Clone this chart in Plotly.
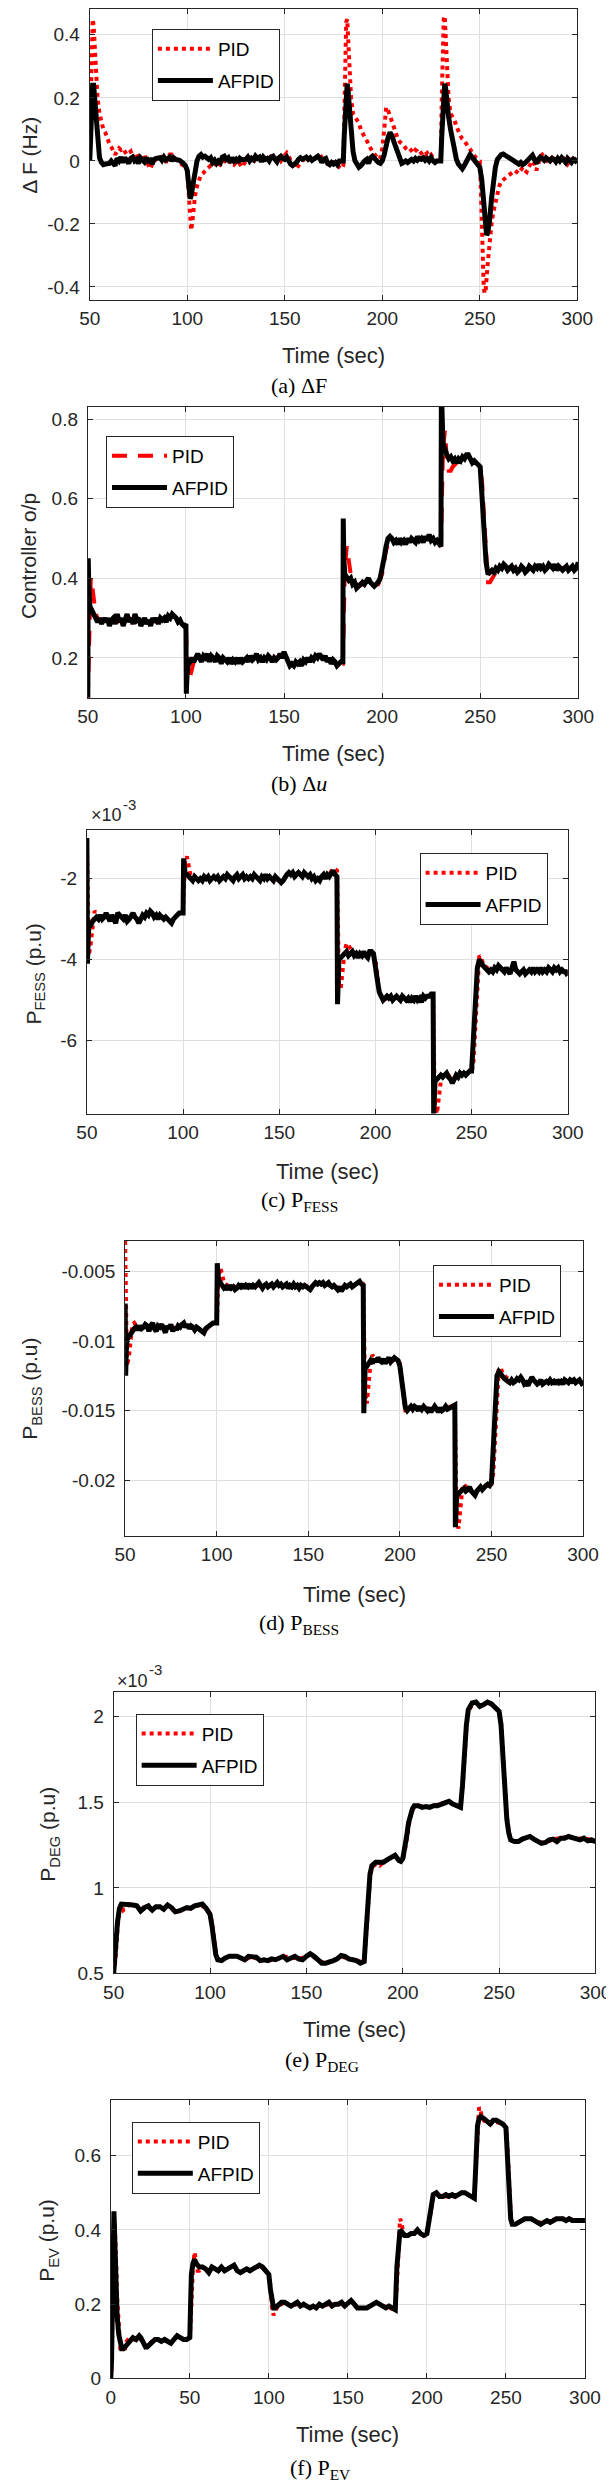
import plotly.graph_objects as go

W, H = 614, 2481

# ---------------- data: (time, value) pairs ----------------
# (a) frequency deviation, Hz
df_pid = [(50, 0.05), (50.5, 0.25), (51, 0.4), (51.5, 0.45), (52, 0.43), (52.5, 0.36), (53, 0.28), (54, 0.2),
          (55, 0.15), (56, 0.12), (57, 0.1), (58, 0.09), (59, 0.07), (60, 0.055), (61, 0.045), (62, 0.03),
          (63, 0.02), (64, 0.03), (65, 0.04), (66, 0.035), (67, 0.04), (68, 0.03), (69, 0.02), (70, 0.025),
          (71, 0.03), (72, 0.01), (73, 0.02), (74, 0.025), (75, 0.01), (76, 0.0), (77, 0.015), (78, 0.02),
          (79, 0.0), (80, -0.015), (81, -0.025), (82, -0.01), (83, 0.0), (84, 0.005), (85, 0.01), (86, 0.005),
          (87, 0.012), (88, 0.008), (89, -0.005), (90, 0.005), (91, 0.02), (92, 0.02), (93, 0.012), (94, 0.005),
          (95, 0.0), (96, -0.005), (97, -0.01), (98, -0.015), (99, -0.02), (100, -0.03), (100.5, -0.08),
          (101, -0.15), (101.5, -0.2), (102, -0.22), (102.5, -0.2), (103, -0.16), (104, -0.11), (105, -0.08),
          (106, -0.06), (107, -0.045), (108, -0.04), (109, -0.03), (110, -0.025), (111, -0.02), (112, -0.015),
          (113, -0.02), (114, -0.01), (115, -0.012), (116, -0.02), (117, -0.01), (118, -0.015), (119, 0.0),
          (120, -0.005), (121, -0.01), (122, 0.0), (123, -0.008), (124, -0.012), (125, -0.005), (126, 0.0),
          (127, -0.01), (128, -0.02), (129, -0.01), (130, 0.0), (131, 0.005), (132, 0.01), (133, 0.0),
          (134, -0.005), (135, 0.01), (136, 0.015), (137, 0.01), (138, 0.005), (139, 0.012), (140, 0.008),
          (141, 0.0), (142, 0.005), (143, 0.015), (144, 0.02), (145, 0.01), (146, 0.005), (147, 0.01),
          (148, 0.0), (149, 0.01), (150, 0.02), (151, 0.025), (152, 0.015), (153, 0.0), (154, -0.01),
          (155, -0.02), (156, -0.025), (157, -0.015), (158, -0.005), (159, 0.0), (160, 0.005), (161, 0.0),
          (162, 0.008), (163, 0.005), (164, 0.01), (165, 0.005), (166, 0.01), (167, 0.015), (168, 0.02),
          (169, 0.01), (170, 0.005), (171, 0.0), (172, -0.01), (173, -0.015), (174, -0.01), (175, -0.005),
          (176, -0.01), (177, -0.015), (178, -0.02), (179, -0.025), (180, -0.015), (180.5, 0.15), (181, 0.35),
          (181.5, 0.44), (182, 0.45), (182.5, 0.38), (183, 0.3), (184, 0.2), (185, 0.15), (186, 0.14),
          (187, 0.13), (188, 0.12), (189, 0.1), (190, 0.085), (191, 0.075), (192, 0.065), (193, 0.05),
          (194, 0.04), (195, 0.03), (196, 0.02), (197, 0.01), (198, 0.005), (199, 0.01), (200, 0.04),
          (201, 0.1), (201.5, 0.15), (202, 0.17), (203, 0.16), (204, 0.14), (205, 0.12), (206, 0.1),
          (207, 0.085), (208, 0.07), (209, 0.06), (210, 0.055), (211, 0.05), (212, 0.04), (213, 0.035),
          (214, 0.04), (215, 0.03), (216, 0.025), (217, 0.035), (218, 0.03), (219, 0.02), (220, 0.025),
          (221, 0.03), (222, 0.02), (223, 0.025), (224, 0.015), (225, 0.02), (226, 0.01), (227, 0.005),
          (228, 0.0), (229, 0.0), (230, 0.005), (230.5, 0.2), (231, 0.38), (231.5, 0.45), (232, 0.46),
          (232.5, 0.4), (233, 0.3), (234, 0.2), (235, 0.15), (236, 0.14), (237, 0.13), (238, 0.11), (239, 0.09),
          (240, 0.08), (241, 0.07), (242, 0.065), (243, 0.055), (244, 0.045), (245, 0.035), (246, 0.03),
          (247, 0.02), (248, 0.01), (249, 0.005), (250, 0.0), (250.5, -0.08), (251, -0.2), (251.5, -0.32),
          (252, -0.4), (252.5, -0.42), (253, -0.41), (254, -0.33), (255, -0.26), (256, -0.2), (257, -0.16),
          (258, -0.13), (259, -0.1), (260, -0.08), (261, -0.065), (262, -0.06), (263, -0.055), (264, -0.05),
          (265, -0.045), (266, -0.04), (267, -0.035), (268, -0.03), (269, -0.035), (270, -0.04), (271, -0.03),
          (272, -0.02), (273, -0.03), (274, -0.035), (275, -0.02), (276, -0.01), (277, 0.0), (278, -0.01),
          (279, -0.03), (280, -0.01), (281, 0.015), (282, 0.02), (283, 0.01), (284, 0.005), (285, -0.005),
          (286, 0.005), (287, 0.01), (288, 0.0), (289, 0.005), (290, 0.0), (291, -0.005), (292, 0.005),
          (293, 0.008), (294, 0.0), (295, -0.01), (296, 0.0), (297, 0.005), (298, 0.0), (299, -0.005), (300, 0.0)]
df_afpid = [(50, 0.0), (50.5, 0.12), (51, 0.2), (51.5, 0.24), (52, 0.24), (52.5, 0.2), (53, 0.14), (54, 0.06),
            (55, 0.01), (56, -0.005), (57, -0.012), (58, -0.01), (60, -0.008), (61, 0.0), (62, -0.005),
            (63, -0.015), (64, 0.008), (65, 0.0), (66, 0.012), (67, -0.005), (68, 0.01), (69, -0.003),
            (70, -0.008), (71, 0.008), (72, 0.012), (73, 0.0), (74, 0.005), (75, -0.008), (76, 0.01),
            (78, -0.003), (79, 0.01), (80, 0.0), (81, 0.003), (82, -0.01), (83, 0.005), (84, 0.008), (86, 0.01),
            (87, 0.002), (88, 0.012), (89, 0.003), (90, 0.008), (91, 0.012), (92, 0.0), (93, 0.01), (94, 0.005),
            (96, 0.002), (98, -0.008), (99, -0.015), (100, -0.03), (100.5, -0.07), (101, -0.11), (101.5, -0.12),
            (102, -0.11), (103, -0.07), (104, -0.03), (105, 0.0), (106, 0.015), (107, 0.02), (108, 0.012),
            (109, 0.015), (110, 0.01), (111, 0.005), (112, 0.01), (113, -0.005), (114, 0.002), (115, -0.008),
            (116, 0.0), (117, -0.005), (118, 0.012), (119, 0.015), (120, 0.005), (121, 0.01), (122, -0.005),
            (123, 0.01), (124, 0.0), (125, 0.005), (126, -0.005), (127, 0.008), (128, 0.003), (130, 0.005),
            (131, 0.012), (132, 0.0), (133, 0.008), (134, 0.003), (135, 0.015), (136, 0.008), (137, 0.012),
            (138, -0.003), (139, 0.012), (140, 0.005), (141, 0.008), (142, 0.0), (143, 0.012), (144, 0.015),
            (145, 0.005), (146, -0.003), (147, 0.01), (148, 0.015), (149, 0.008), (150, 0.005), (151, 0.012),
            (152, 0.0), (153, -0.01), (154, -0.015), (155, -0.012), (156, -0.005), (157, 0.005), (158, 0.01),
            (159, 0.005), (160, 0.008), (161, 0.012), (162, 0.005), (163, 0.01), (164, 0.002), (165, 0.008),
            (166, 0.012), (167, 0.015), (168, 0.008), (169, -0.005), (170, 0.005), (171, 0.008), (172, -0.008),
            (173, -0.012), (174, -0.005), (175, -0.01), (176, -0.005), (177, -0.012), (178, 0.0), (179, 0.0),
            (180, 0.0), (180.5, 0.08), (181, 0.16), (181.5, 0.23), (182, 0.245), (182.5, 0.22), (183, 0.17),
            (184, 0.09), (185, 0.03), (186, 0.0), (187, -0.01), (188, -0.02), (189, -0.015), (190, -0.005),
            (191, 0.0), (192, 0.005), (193, -0.008), (194, 0.01), (195, 0.015), (196, 0.008), (197, 0.0),
            (198, -0.005), (199, -0.008), (200, 0.0), (201, 0.02), (202, 0.05), (203, 0.075), (204, 0.09),
            (205, 0.08), (206, 0.06), (207, 0.04), (208, 0.02), (209, 0.0), (210, -0.008), (211, -0.005),
            (212, 0.0), (213, -0.005), (214, 0.002), (215, 0.005), (216, 0.0), (217, 0.008), (218, 0.002),
            (219, 0.008), (220, 0.005), (221, 0.01), (222, 0.002), (223, 0.008), (224, 0.0), (225, 0.01),
            (226, 0.0), (227, -0.005), (228, 0.0), (229, 0.0), (230, 0.0), (230.5, 0.08), (231, 0.16),
            (231.5, 0.23), (232, 0.245), (232.5, 0.23), (233, 0.19), (234, 0.14), (235, 0.1), (236, 0.06),
            (237, 0.03), (238, 0.005), (239, -0.01), (240, -0.02), (241, -0.025), (242, -0.015), (243, 0.0),
            (244, 0.015), (245, 0.02), (246, 0.012), (247, 0.005), (248, -0.005), (249, -0.01), (250, -0.02),
            (251, -0.06), (252, -0.14), (253, -0.21), (253.5, -0.235), (254, -0.23), (255, -0.19), (256, -0.12),
            (257, -0.06), (258, -0.02), (259, 0.005), (260, 0.015), (261, 0.02), (262, 0.022), (263, 0.018),
            (264, 0.015), (265, 0.012), (266, 0.005), (267, 0.002), (268, -0.003), (269, -0.008), (270, -0.01),
            (271, -0.005), (272, -0.012), (273, -0.008), (274, 0.0), (275, 0.005), (276, 0.015), (277, 0.018),
            (278, 0.005), (279, -0.008), (280, 0.005), (281, 0.012), (282, 0.008), (283, 0.002), (284, 0.01),
            (285, 0.005), (286, 0.0), (287, 0.008), (288, 0.005), (289, -0.003), (290, 0.008), (291, 0.0),
            (292, 0.01), (293, 0.002), (294, -0.005), (295, 0.008), (296, 0.003), (297, -0.005), (298, 0.005),
            (299, 0.0), (300, 0.008)]

# (b) controller output
du_pid = [(50, 0.1), (50.5, 0.2), (51, 0.35), (51.5, 0.4), (52, 0.39), (53, 0.34), (54, 0.31), (55, 0.3),
          (57, 0.29), (59, 0.3), (61, 0.285), (63, 0.3), (65, 0.29), (67, 0.295), (69, 0.285), (71, 0.3),
          (73, 0.29), (75, 0.3), (77, 0.285), (79, 0.295), (81, 0.29), (83, 0.295), (85, 0.29), (87, 0.3),
          (89, 0.295), (91, 0.3), (93, 0.305), (95, 0.3), (97, 0.29), (99, 0.285), (100, 0.28), (100.5, 0.2),
          (101, 0.15), (102, 0.15), (103, 0.17), (104, 0.19), (106, 0.2), (108, 0.195), (110, 0.2), (112, 0.195),
          (114, 0.2), (116, 0.195), (118, 0.19), (120, 0.195), (122, 0.19), (124, 0.195), (126, 0.19),
          (128, 0.195), (130, 0.19), (132, 0.195), (134, 0.2), (136, 0.2), (138, 0.195), (140, 0.2), (142, 0.2),
          (144, 0.195), (146, 0.2), (148, 0.205), (150, 0.21), (152, 0.195), (154, 0.185), (156, 0.185),
          (158, 0.185), (160, 0.19), (162, 0.195), (164, 0.195), (166, 0.2), (168, 0.205), (170, 0.2),
          (172, 0.195), (174, 0.19), (176, 0.19), (178, 0.185), (180, 0.185), (180.5, 0.3), (181, 0.42),
          (182, 0.48), (183, 0.45), (184, 0.41), (186, 0.39), (188, 0.38), (190, 0.385), (192, 0.39),
          (194, 0.395), (196, 0.385), (198, 0.385), (200, 0.41), (202, 0.47), (204, 0.5), (206, 0.495),
          (208, 0.49), (210, 0.49), (212, 0.49), (214, 0.495), (216, 0.495), (218, 0.5), (220, 0.5), (222, 0.5),
          (224, 0.505), (226, 0.5), (228, 0.49), (230, 0.48), (230.5, 0.6), (231, 0.72), (232, 0.77), (233, 0.7),
          (234, 0.67), (235, 0.67), (236, 0.68), (238, 0.69), (240, 0.695), (242, 0.7), (244, 0.705),
          (246, 0.695), (248, 0.69), (250, 0.68), (251, 0.64), (252, 0.55), (253, 0.45), (254, 0.39),
          (255, 0.39), (256, 0.4), (258, 0.415), (260, 0.425), (262, 0.43), (264, 0.425), (266, 0.43),
          (268, 0.425), (270, 0.42), (272, 0.425), (274, 0.425), (276, 0.425), (278, 0.43), (280, 0.43),
          (282, 0.43), (284, 0.425), (286, 0.43), (288, 0.43), (290, 0.425), (292, 0.425), (294, 0.43),
          (296, 0.425), (298, 0.425), (300, 0.43)]
du_afpid = [(50, 0.1), (50.2, 0.45), (50.5, 0.38), (51, 0.33), (52, 0.32), (53, 0.31), (54, 0.3), (55, 0.29),
            (56, 0.3), (57, 0.285), (58, 0.3), (59, 0.29), (60, 0.3), (61, 0.28), (62, 0.295), (63, 0.3),
            (64, 0.285), (65, 0.31), (66, 0.29), (67, 0.3), (68, 0.28), (69, 0.295), (70, 0.31), (71, 0.29),
            (72, 0.3), (73, 0.285), (74, 0.31), (75, 0.295), (76, 0.3), (77, 0.28), (78, 0.29), (79, 0.3),
            (80, 0.285), (81, 0.295), (82, 0.28), (83, 0.3), (84, 0.29), (85, 0.3), (86, 0.285), (87, 0.3),
            (88, 0.295), (89, 0.3), (90, 0.29), (91, 0.305), (92, 0.3), (93, 0.31), (94, 0.305), (95, 0.3),
            (96, 0.29), (97, 0.295), (98, 0.285), (99, 0.28), (100, 0.285), (100.2, 0.11), (100.5, 0.15),
            (101, 0.18), (102, 0.19), (103, 0.2), (104, 0.19), (105, 0.2), (106, 0.21), (107, 0.2), (108, 0.19),
            (109, 0.205), (110, 0.2), (111, 0.21), (112, 0.19), (113, 0.205), (114, 0.2), (115, 0.19),
            (116, 0.205), (117, 0.2), (118, 0.185), (119, 0.2), (120, 0.195), (121, 0.19), (122, 0.2),
            (123, 0.185), (124, 0.195), (125, 0.19), (126, 0.2), (127, 0.185), (128, 0.2), (129, 0.19),
            (130, 0.195), (131, 0.2), (132, 0.19), (133, 0.205), (134, 0.195), (135, 0.2), (136, 0.21),
            (137, 0.195), (138, 0.2), (139, 0.19), (140, 0.2), (141, 0.195), (142, 0.205), (143, 0.2),
            (144, 0.19), (145, 0.2), (146, 0.195), (147, 0.2), (148, 0.21), (149, 0.2), (150, 0.215),
            (151, 0.205), (152, 0.19), (153, 0.18), (154, 0.185), (155, 0.18), (156, 0.19), (157, 0.185),
            (158, 0.19), (159, 0.18), (160, 0.195), (161, 0.19), (162, 0.2), (163, 0.19), (164, 0.2),
            (165, 0.195), (166, 0.205), (167, 0.2), (168, 0.21), (169, 0.2), (170, 0.195), (171, 0.205),
            (172, 0.19), (173, 0.2), (174, 0.185), (175, 0.195), (176, 0.19), (177, 0.18), (178, 0.185),
            (179, 0.19), (180, 0.19), (180.2, 0.55), (180.5, 0.45), (181, 0.41), (182, 0.4), (183, 0.395),
            (184, 0.4), (185, 0.385), (186, 0.39), (187, 0.375), (188, 0.38), (189, 0.385), (190, 0.39),
            (191, 0.385), (192, 0.395), (193, 0.4), (194, 0.39), (195, 0.385), (196, 0.38), (197, 0.385),
            (198, 0.39), (199, 0.4), (200, 0.42), (201, 0.45), (202, 0.48), (203, 0.5), (204, 0.505), (205, 0.5),
            (206, 0.49), (207, 0.495), (208, 0.485), (209, 0.5), (210, 0.49), (211, 0.495), (212, 0.485),
            (213, 0.5), (214, 0.49), (215, 0.5), (216, 0.495), (217, 0.49), (218, 0.505), (219, 0.495),
            (220, 0.5), (221, 0.49), (222, 0.505), (223, 0.495), (224, 0.51), (225, 0.495), (226, 0.5),
            (227, 0.49), (228, 0.495), (229, 0.485), (230, 0.48), (230.2, 0.83), (230.5, 0.83), (231, 0.74),
            (232, 0.72), (233, 0.71), (234, 0.7), (235, 0.705), (236, 0.695), (237, 0.7), (238, 0.69), (239, 0.7),
            (240, 0.695), (241, 0.705), (242, 0.7), (243, 0.71), (244, 0.71), (245, 0.7), (246, 0.69),
            (247, 0.695), (248, 0.69), (249, 0.685), (250, 0.68), (251, 0.6), (252, 0.5), (253, 0.44),
            (254, 0.41), (255, 0.415), (256, 0.42), (257, 0.415), (258, 0.425), (259, 0.42), (260, 0.43),
            (261, 0.425), (262, 0.435), (263, 0.43), (264, 0.42), (265, 0.425), (266, 0.43), (267, 0.42),
            (268, 0.425), (269, 0.415), (270, 0.42), (271, 0.43), (272, 0.425), (273, 0.415), (274, 0.42),
            (275, 0.43), (276, 0.425), (277, 0.42), (278, 0.43), (279, 0.425), (280, 0.435), (281, 0.425),
            (282, 0.43), (283, 0.42), (284, 0.425), (285, 0.435), (286, 0.43), (287, 0.425), (288, 0.435),
            (289, 0.42), (290, 0.43), (291, 0.425), (292, 0.42), (293, 0.425), (294, 0.43), (295, 0.42),
            (296, 0.425), (297, 0.43), (298, 0.42), (299, 0.425), (300, 0.44)]

# (c) P_FESS, in units of 1e-3 p.u
fess_pid = [(50, -1.0), (50.5, -3.0), (51, -3.9), (52, -3.6), (53, -3.2), (54, -2.8), (55, -2.85), (56, -2.95),
            (58, -3.0), (60, -2.9), (62, -3.0), (64, -2.95), (66, -2.9), (68, -3.0), (70, -2.95), (72, -2.95),
            (74, -2.9), (76, -3.0), (78, -2.95), (80, -2.9), (82, -2.8), (84, -2.9), (86, -2.9), (88, -2.95),
            (90, -2.95), (92, -3.0), (94, -3.05), (96, -2.95), (98, -2.85), (100, -2.8), (100.5, -2.0),
            (101, -1.6), (102, -1.45), (103, -1.75), (104, -1.95), (106, -2.0), (108, -2.0), (110, -2.0),
            (112, -1.95), (114, -2.0), (116, -1.95), (118, -2.0), (120, -2.0), (122, -1.95), (124, -1.95),
            (126, -2.0), (128, -1.95), (130, -1.95), (132, -1.95), (134, -2.0), (136, -1.95), (138, -1.95),
            (140, -2.0), (142, -1.95), (144, -1.95), (146, -2.0), (148, -2.0), (150, -2.05), (152, -2.05),
            (154, -1.9), (156, -1.85), (158, -1.9), (160, -1.85), (162, -1.9), (164, -1.9), (166, -1.95),
            (168, -1.95), (170, -2.0), (172, -2.0), (174, -1.95), (176, -1.9), (178, -1.75), (180, -1.8),
            (180.5, -3.0), (181, -4.6), (182, -4.7), (183, -4.2), (184, -3.8), (185, -3.6), (186, -3.65),
            (188, -3.8), (190, -3.85), (192, -3.85), (194, -3.85), (196, -3.9), (198, -3.8), (200, -4.0),
            (201, -4.4), (202, -4.75), (203, -4.95), (204, -5.0), (206, -4.95), (208, -4.95), (210, -4.95),
            (212, -4.95), (214, -4.95), (216, -5.0), (218, -5.0), (220, -4.95), (222, -4.95), (224, -5.0),
            (226, -4.95), (228, -4.9), (230, -4.85), (230.5, -6.5), (231, -7.6), (232, -7.8), (233, -7.3),
            (234, -7.0), (235, -6.9), (236, -6.85), (238, -6.85), (240, -7.0), (242, -6.9), (244, -6.85),
            (246, -6.8), (248, -6.8), (250, -6.8), (251, -6.5), (252, -5.5), (253, -4.4), (254, -3.9),
            (255, -3.95), (256, -4.1), (258, -4.2), (260, -4.25), (262, -4.25), (264, -4.2), (266, -4.25),
            (268, -4.2), (270, -4.3), (272, -4.15), (274, -4.3), (276, -4.3), (278, -4.3), (280, -4.3),
            (282, -4.25), (284, -4.3), (286, -4.3), (288, -4.25), (290, -4.25), (292, -4.3), (294, -4.25),
            (296, -4.25), (298, -4.3), (300, -4.3)]
fess_afpid = [(50, -1.0), (50.3, -4.1), (50.6, -3.6), (51, -3.2), (52, -3.15), (53, -3.05), (54, -3.0),
              (55, -2.95), (56, -3.0), (57, -2.9), (58, -3.0), (59, -2.95), (60, -2.85), (61, -2.95),
              (62, -3.05), (63, -2.9), (64, -3.0), (65, -3.1), (66, -2.85), (67, -2.9), (68, -2.95), (69, -3.0),
              (70, -2.9), (71, -3.05), (72, -3.0), (73, -2.9), (74, -2.85), (75, -2.95), (76, -3.0), (77, -3.1),
              (78, -2.95), (79, -2.9), (80, -2.95), (81, -2.85), (82, -2.9), (83, -2.8), (84, -2.85),
              (85, -2.95), (86, -2.9), (87, -3.0), (88, -2.9), (89, -2.95), (90, -3.0), (91, -2.95), (92, -3.0),
              (93, -3.05), (94, -3.1), (95, -3.0), (96, -2.95), (97, -2.9), (98, -2.85), (99, -2.85),
              (100, -2.85), (100.3, -1.5), (100.7, -1.7), (101, -1.85), (102, -1.9), (103, -1.95), (104, -2.0),
              (105, -2.05), (106, -1.95), (107, -2.0), (108, -2.05), (109, -2.0), (110, -2.05), (111, -1.95),
              (112, -2.0), (113, -1.95), (114, -2.05), (115, -2.0), (116, -1.95), (117, -2.0), (118, -1.95),
              (119, -2.05), (120, -2.0), (121, -1.95), (122, -2.0), (123, -1.9), (124, -1.95), (125, -2.0),
              (126, -2.05), (127, -1.95), (128, -1.9), (129, -2.0), (130, -1.95), (131, -1.9), (132, -2.0),
              (133, -1.95), (134, -2.0), (135, -1.95), (136, -2.0), (137, -1.9), (138, -1.95), (139, -2.0),
              (140, -2.05), (141, -1.95), (142, -2.0), (143, -1.9), (144, -2.0), (145, -1.95), (146, -2.0),
              (147, -2.05), (148, -1.95), (149, -2.0), (150, -2.05), (151, -2.1), (152, -2.05), (153, -1.95),
              (154, -1.9), (155, -1.85), (156, -1.9), (157, -1.85), (158, -1.95), (159, -1.9), (160, -1.85),
              (161, -1.9), (162, -1.95), (163, -1.85), (164, -1.9), (165, -1.95), (166, -1.9), (167, -2.0),
              (168, -1.95), (169, -2.05), (170, -2.0), (171, -2.05), (172, -1.95), (173, -1.9), (174, -2.0),
              (175, -1.9), (176, -1.95), (177, -1.85), (178, -1.8), (179, -1.9), (180, -1.95), (180.3, -5.1),
              (180.7, -4.3), (181, -4.0), (182, -3.95), (183, -3.9), (184, -3.85), (185, -3.8), (186, -3.9),
              (187, -3.85), (188, -3.8), (189, -3.9), (190, -3.85), (191, -3.95), (192, -3.85), (193, -3.9),
              (194, -3.8), (195, -3.9), (196, -3.95), (197, -3.8), (198, -3.8), (199, -3.85), (200, -4.1),
              (201, -4.5), (202, -4.8), (203, -4.95), (204, -5.0), (205, -4.95), (206, -4.9), (207, -4.95),
              (208, -4.9), (209, -5.0), (210, -4.95), (211, -4.9), (212, -4.95), (213, -5.0), (214, -4.9),
              (215, -4.95), (216, -5.0), (217, -4.95), (218, -5.05), (219, -4.95), (220, -5.0), (221, -4.9),
              (222, -5.0), (223, -4.95), (224, -5.05), (225, -4.9), (226, -4.95), (227, -4.9), (228, -4.9),
              (229, -4.85), (230, -4.85), (230.3, -7.8), (230.7, -7.2), (231, -7.0), (232, -6.95), (233, -6.9),
              (234, -6.85), (235, -6.9), (236, -6.85), (237, -6.8), (238, -6.9), (239, -6.95), (240, -7.05),
              (241, -6.95), (242, -6.85), (243, -6.9), (244, -6.8), (245, -6.85), (246, -6.8), (247, -6.85),
              (248, -6.8), (249, -6.75), (250, -6.75), (251, -6.0), (252, -4.8), (253, -4.2), (254, -4.0),
              (255, -4.1), (256, -4.15), (257, -4.2), (258, -4.25), (259, -4.3), (260, -4.25), (261, -4.3),
              (262, -4.2), (263, -4.25), (264, -4.15), (265, -4.2), (266, -4.25), (267, -4.3), (268, -4.2),
              (269, -4.3), (270, -4.35), (271, -4.2), (272, -4.05), (273, -4.25), (274, -4.3), (275, -4.35),
              (276, -4.3), (277, -4.25), (278, -4.35), (279, -4.3), (280, -4.25), (281, -4.3), (282, -4.2),
              (283, -4.3), (284, -4.25), (285, -4.3), (286, -4.2), (287, -4.3), (288, -4.25), (289, -4.3),
              (290, -4.2), (291, -4.25), (292, -4.3), (293, -4.2), (294, -4.25), (295, -4.2), (296, -4.3),
              (297, -4.25), (298, -4.3), (299, -4.3), (300, -4.4)]

# (d) P_BESS, p.u
bess_pid = [(50, -0.0028), (50.3, -0.006), (50.6, -0.01), (51, -0.0118), (52, -0.0112), (53, -0.0098),
            (54, -0.0088), (55, -0.0087), (56, -0.0089), (58, -0.009), (60, -0.0091), (62, -0.0089), (64, -0.009),
            (66, -0.009), (68, -0.0091), (70, -0.0089), (72, -0.0091), (74, -0.009), (76, -0.0091), (78, -0.009),
            (80, -0.0088), (82, -0.0088), (84, -0.0089), (86, -0.0089), (88, -0.009), (90, -0.0091),
            (92, -0.0092), (94, -0.0092), (96, -0.0089), (98, -0.0087), (100, -0.0087), (100.5, -0.0075),
            (101, -0.0055), (102, -0.0047), (103, -0.0052), (104, -0.0058), (106, -0.006), (108, -0.0061),
            (110, -0.0061), (112, -0.006), (114, -0.006), (116, -0.006), (118, -0.006), (120, -0.006),
            (122, -0.006), (124, -0.006), (126, -0.006), (128, -0.006), (130, -0.006), (132, -0.006),
            (134, -0.006), (136, -0.006), (138, -0.006), (140, -0.006), (142, -0.006), (144, -0.006),
            (146, -0.006), (148, -0.006), (150, -0.0061), (152, -0.0061), (154, -0.0058), (156, -0.0058),
            (158, -0.0059), (160, -0.0059), (162, -0.006), (164, -0.006), (166, -0.0062), (168, -0.0062),
            (170, -0.006), (172, -0.006), (174, -0.006), (176, -0.0059), (178, -0.0057), (180, -0.0059),
            (180.5, -0.0095), (181, -0.0135), (182, -0.0145), (183, -0.013), (184, -0.0115), (185, -0.011),
            (186, -0.0112), (188, -0.0114), (190, -0.0114), (192, -0.0115), (194, -0.0114), (196, -0.0114),
            (198, -0.0113), (200, -0.0116), (201, -0.0128), (202, -0.0142), (203, -0.015), (204, -0.015),
            (206, -0.0148), (208, -0.0148), (210, -0.0149), (212, -0.0148), (214, -0.0148), (216, -0.0149),
            (218, -0.0149), (220, -0.0148), (222, -0.0149), (224, -0.0149), (226, -0.0148), (228, -0.0147),
            (230, -0.0146), (230.5, -0.019), (231, -0.0228), (232, -0.0235), (233, -0.022), (234, -0.0207),
            (235, -0.0203), (236, -0.0205), (238, -0.0206), (240, -0.0209), (242, -0.0208), (244, -0.0206),
            (246, -0.0205), (248, -0.0204), (250, -0.0203), (251, -0.0195), (252, -0.017), (253, -0.0135),
            (254, -0.012), (255, -0.0119), (256, -0.0123), (258, -0.0126), (260, -0.0128), (262, -0.0129),
            (264, -0.0128), (266, -0.0127), (268, -0.013), (270, -0.013), (272, -0.0127), (274, -0.013),
            (276, -0.013), (278, -0.013), (280, -0.0129), (282, -0.0129), (284, -0.013), (286, -0.0129),
            (288, -0.0129), (290, -0.0129), (292, -0.0129), (294, -0.0129), (296, -0.0129), (298, -0.0129),
            (300, -0.013)]
bess_afpid = [(50, -0.0073), (50.3, -0.0125), (50.6, -0.0108), (51, -0.0099), (52, -0.0097), (53, -0.0094),
              (54, -0.0092), (55, -0.0091), (56, -0.009), (57, -0.0092), (58, -0.0089), (59, -0.0091),
              (60, -0.009), (61, -0.0088), (62, -0.0089), (63, -0.0093), (64, -0.0089), (65, -0.0087),
              (66, -0.0091), (67, -0.0093), (68, -0.0089), (69, -0.009), (70, -0.0088), (71, -0.0092),
              (72, -0.0094), (73, -0.0089), (74, -0.0091), (75, -0.0088), (76, -0.0093), (77, -0.009),
              (78, -0.0092), (79, -0.0089), (80, -0.009), (81, -0.0088), (82, -0.0087), (83, -0.009),
              (84, -0.0088), (85, -0.0091), (86, -0.0089), (87, -0.009), (88, -0.0092), (89, -0.009),
              (90, -0.0091), (91, -0.0092), (92, -0.0093), (93, -0.0094), (94, -0.0091), (95, -0.009),
              (96, -0.0088), (97, -0.0088), (98, -0.0087), (99, -0.0087), (100, -0.0087), (100.3, -0.0044),
              (100.7, -0.0052), (101, -0.0056), (102, -0.0058), (103, -0.006), (104, -0.0062), (105, -0.0061),
              (106, -0.0063), (107, -0.006), (108, -0.0062), (109, -0.0061), (110, -0.0063), (111, -0.0062),
              (112, -0.006), (113, -0.0061), (114, -0.0059), (115, -0.0062), (116, -0.006), (117, -0.0061),
              (118, -0.0059), (119, -0.0062), (120, -0.006), (121, -0.0061), (122, -0.006), (123, -0.0058),
              (124, -0.006), (125, -0.0062), (126, -0.006), (127, -0.0059), (128, -0.0061), (129, -0.006),
              (130, -0.0059), (131, -0.0061), (132, -0.006), (133, -0.0058), (134, -0.006), (135, -0.0059),
              (136, -0.0061), (137, -0.006), (138, -0.0059), (139, -0.0062), (140, -0.006), (141, -0.0061),
              (142, -0.0059), (143, -0.0061), (144, -0.006), (145, -0.0062), (146, -0.006), (147, -0.0061),
              (148, -0.006), (149, -0.0061), (150, -0.0062), (151, -0.0063), (152, -0.0061), (153, -0.0059),
              (154, -0.0058), (155, -0.0059), (156, -0.0058), (157, -0.0059), (158, -0.0058), (159, -0.006),
              (160, -0.0059), (161, -0.0058), (162, -0.006), (163, -0.0061), (164, -0.006), (165, -0.0062),
              (166, -0.0063), (167, -0.0061), (168, -0.0064), (169, -0.0062), (170, -0.006), (171, -0.0061),
              (172, -0.006), (173, -0.0059), (174, -0.0061), (175, -0.006), (176, -0.0059), (177, -0.0058),
              (178, -0.0057), (179, -0.0059), (180, -0.006), (180.3, -0.0152), (180.7, -0.013), (181, -0.012),
              (182, -0.0118), (183, -0.0116), (184, -0.0114), (185, -0.0116), (186, -0.0113), (187, -0.0115),
              (188, -0.0112), (189, -0.0114), (190, -0.0115), (191, -0.0113), (192, -0.0116), (193, -0.0114),
              (194, -0.0112), (195, -0.0115), (196, -0.0114), (197, -0.0112), (198, -0.0113), (199, -0.0114),
              (200, -0.0118), (201, -0.013), (202, -0.0142), (203, -0.0148), (204, -0.015), (205, -0.0148),
              (206, -0.0147), (207, -0.0149), (208, -0.0147), (209, -0.0148), (210, -0.015), (211, -0.0147),
              (212, -0.0149), (213, -0.0147), (214, -0.0148), (215, -0.015), (216, -0.0148), (217, -0.0151),
              (218, -0.0149), (219, -0.0147), (220, -0.0149), (221, -0.0151), (222, -0.0148), (223, -0.015),
              (224, -0.0149), (225, -0.0147), (226, -0.0149), (227, -0.0148), (228, -0.0147), (229, -0.0147),
              (230, -0.0146), (230.3, -0.0234), (230.7, -0.022), (231, -0.0212), (232, -0.021), (233, -0.0208),
              (234, -0.0207), (235, -0.0206), (236, -0.0208), (237, -0.0207), (238, -0.0205), (239, -0.0208),
              (240, -0.021), (241, -0.0211), (242, -0.0208), (243, -0.0206), (244, -0.0205), (245, -0.0207),
              (246, -0.0205), (247, -0.0204), (248, -0.0203), (249, -0.0204), (250, -0.0202), (251, -0.018),
              (252, -0.0145), (253, -0.0125), (254, -0.0122), (255, -0.0124), (256, -0.0126), (257, -0.0127),
              (258, -0.0128), (259, -0.0129), (260, -0.013), (261, -0.0128), (262, -0.013), (263, -0.0129),
              (264, -0.0127), (265, -0.0128), (266, -0.0126), (267, -0.0128), (268, -0.0131), (269, -0.013),
              (270, -0.0132), (271, -0.0129), (272, -0.0126), (273, -0.0128), (274, -0.013), (275, -0.0131),
              (276, -0.013), (277, -0.0128), (278, -0.0131), (279, -0.013), (280, -0.0129), (281, -0.013),
              (282, -0.0128), (283, -0.013), (284, -0.0129), (285, -0.0131), (286, -0.0128), (287, -0.013),
              (288, -0.0129), (289, -0.0131), (290, -0.0128), (291, -0.0129), (292, -0.013), (293, -0.0128),
              (294, -0.0129), (295, -0.0128), (296, -0.013), (297, -0.0129), (298, -0.0128), (299, -0.013),
              (300, -0.0132)]

# (e) P_DEG, in units of 1e-3 p.u
deg_pid = [(50, 0.5), (51, 0.58), (52, 0.76), (53, 0.87), (54, 0.9), (55, 0.87), (56, 0.88), (58, 0.905),
           (62, 0.895), (66, 0.88), (70, 0.875), (74, 0.89), (78, 0.895), (82, 0.86), (86, 0.87), (90, 0.885),
           (94, 0.9), (98, 0.885), (100, 0.85), (101, 0.8), (102, 0.7), (103, 0.62), (104, 0.585), (106, 0.58),
           (110, 0.6), (114, 0.6), (118, 0.58), (122, 0.6), (126, 0.575), (130, 0.575), (134, 0.58), (138, 0.6),
           (142, 0.59), (146, 0.585), (150, 0.6), (152, 0.615), (156, 0.575), (160, 0.56), (164, 0.575),
           (168, 0.6), (172, 0.585), (176, 0.575), (180, 0.565), (181, 0.72), (182, 0.92), (183, 1.06),
           (184, 1.12), (186, 1.14), (188, 1.13), (190, 1.15), (194, 1.175), (196, 1.19), (199, 1.155),
           (200, 1.165), (201, 1.21), (202, 1.29), (203, 1.37), (204, 1.42), (205, 1.455), (206, 1.475),
           (208, 1.48), (212, 1.47), (216, 1.48), (220, 1.49), (224, 1.505), (228, 1.48), (230, 1.47),
           (231, 1.58), (232, 1.78), (233, 1.93), (234, 2.03), (236, 2.07), (238, 2.08), (240, 2.06),
           (244, 2.085), (248, 2.055), (250, 2.03), (251, 1.97), (252, 1.78), (253, 1.58), (254, 1.42),
           (255, 1.33), (256, 1.28), (258, 1.27), (262, 1.28), (266, 1.3), (270, 1.27), (274, 1.26),
           (278, 1.285), (282, 1.29), (286, 1.3), (290, 1.285), (294, 1.29), (298, 1.28), (300, 1.27)]
deg_afpid = [(50, 0.5), (50.5, 0.55), (51, 0.65), (52, 0.8), (53, 0.88), (54, 0.905), (56, 0.905), (58, 0.9),
             (60, 0.9), (62, 0.895), (64, 0.865), (66, 0.885), (68, 0.895), (69, 0.88), (70, 0.87), (72, 0.89),
             (74, 0.89), (76, 0.875), (78, 0.9), (80, 0.885), (82, 0.86), (84, 0.865), (86, 0.875), (88, 0.885),
             (90, 0.88), (92, 0.895), (94, 0.9), (96, 0.905), (98, 0.88), (100, 0.845), (101, 0.78), (102, 0.68),
             (103, 0.61), (104, 0.58), (106, 0.575), (108, 0.59), (110, 0.6), (112, 0.6), (114, 0.6),
             (116, 0.59), (118, 0.58), (120, 0.6), (122, 0.6), (124, 0.595), (126, 0.575), (128, 0.58),
             (130, 0.575), (132, 0.585), (134, 0.58), (136, 0.59), (138, 0.6), (140, 0.58), (142, 0.59),
             (144, 0.6), (146, 0.585), (148, 0.58), (150, 0.6), (152, 0.615), (154, 0.6), (156, 0.575),
             (158, 0.56), (160, 0.56), (162, 0.565), (164, 0.575), (166, 0.585), (168, 0.605), (170, 0.6),
             (172, 0.585), (174, 0.58), (176, 0.575), (178, 0.56), (180, 0.57), (181, 0.75), (182, 0.95),
             (183, 1.08), (184, 1.13), (186, 1.15), (188, 1.15), (190, 1.15), (192, 1.165), (194, 1.18),
             (196, 1.19), (198, 1.16), (199, 1.155), (200, 1.17), (201, 1.22), (202, 1.3), (203, 1.38),
             (204, 1.43), (205, 1.46), (206, 1.48), (208, 1.48), (210, 1.47), (212, 1.475), (214, 1.47),
             (216, 1.48), (218, 1.48), (220, 1.49), (222, 1.5), (224, 1.505), (226, 1.49), (228, 1.48),
             (230, 1.47), (231, 1.6), (232, 1.8), (233, 1.95), (234, 2.04), (236, 2.08), (238, 2.085),
             (240, 2.06), (242, 2.07), (244, 2.085), (246, 2.075), (248, 2.05), (250, 2.03), (251, 1.95),
             (252, 1.75), (253, 1.55), (254, 1.4), (255, 1.32), (256, 1.28), (258, 1.27), (260, 1.27),
             (262, 1.285), (264, 1.29), (266, 1.3), (268, 1.285), (270, 1.27), (272, 1.26), (274, 1.265),
             (276, 1.28), (278, 1.285), (280, 1.27), (282, 1.29), (284, 1.29), (286, 1.3), (288, 1.295),
             (290, 1.285), (292, 1.28), (294, 1.29), (296, 1.275), (298, 1.28), (300, 1.27)]

# (f) P_EV, p.u
ev_pid = [(0, 0.0), (0.5, 0.03), (1, 0.15), (1.5, 0.33), (2, 0.4), (2.5, 0.42), (3, 0.38), (3.5, 0.3), (4, 0.22),
          (5, 0.13), (6, 0.08), (7, 0.075), (8, 0.075), (9, 0.08), (10, 0.1), (12, 0.11), (14, 0.105),
          (16, 0.105), (18, 0.11), (20, 0.1), (22, 0.085), (24, 0.09), (26, 0.1), (28, 0.105), (30, 0.105),
          (32, 0.1), (34, 0.105), (36, 0.1), (38, 0.095), (40, 0.105), (42, 0.115), (44, 0.11), (46, 0.105),
          (48, 0.105), (50, 0.11), (50.5, 0.15), (51, 0.22), (52, 0.3), (53, 0.34), (54, 0.32), (55, 0.29),
          (56, 0.29), (58, 0.3), (60, 0.295), (62, 0.29), (64, 0.295), (66, 0.295), (68, 0.29), (70, 0.3),
          (72, 0.29), (74, 0.295), (76, 0.3), (78, 0.3), (80, 0.29), (82, 0.285), (84, 0.29), (86, 0.295),
          (88, 0.29), (90, 0.295), (92, 0.3), (94, 0.3), (96, 0.3), (98, 0.29), (100, 0.28), (101, 0.25),
          (102, 0.19), (103, 0.17), (104, 0.18), (106, 0.2), (108, 0.2), (110, 0.205), (114, 0.195), (118, 0.2),
          (122, 0.2), (126, 0.19), (130, 0.195), (134, 0.195), (138, 0.2), (142, 0.2), (146, 0.2), (150, 0.205),
          (152, 0.21), (156, 0.19), (160, 0.19), (164, 0.195), (168, 0.205), (172, 0.195), (176, 0.19),
          (180, 0.185), (181, 0.25), (182, 0.38), (183, 0.43), (184, 0.42), (185, 0.39), (186, 0.38),
          (188, 0.385), (190, 0.39), (194, 0.395), (196, 0.39), (198, 0.385), (200, 0.385), (201, 0.41),
          (202, 0.44), (203, 0.47), (204, 0.49), (206, 0.495), (210, 0.49), (214, 0.49), (218, 0.49), (222, 0.5),
          (226, 0.495), (230, 0.485), (231, 0.56), (232, 0.66), (233, 0.73), (234, 0.72), (235, 0.7),
          (236, 0.695), (238, 0.685), (240, 0.685), (244, 0.69), (248, 0.685), (250, 0.675), (251, 0.62),
          (252, 0.52), (253, 0.44), (254, 0.415), (256, 0.415), (258, 0.42), (262, 0.43), (266, 0.43),
          (270, 0.42), (274, 0.42), (278, 0.425), (282, 0.43), (286, 0.43), (290, 0.43), (294, 0.425),
          (298, 0.425), (300, 0.425)]
ev_afpid = [(0, 0.0), (0.5, 0.05), (1, 0.2), (1.5, 0.42), (2, 0.45), (2.5, 0.38), (3, 0.3), (3.5, 0.22),
            (4, 0.17), (5, 0.12), (6, 0.09), (7, 0.08), (8, 0.08), (9, 0.085), (10, 0.095), (12, 0.1), (14, 0.11),
            (16, 0.105), (17, 0.11), (18, 0.115), (19, 0.11), (20, 0.1), (21, 0.09), (22, 0.085), (23, 0.085),
            (24, 0.09), (26, 0.1), (28, 0.105), (30, 0.105), (32, 0.1), (34, 0.105), (36, 0.1), (38, 0.095),
            (40, 0.105), (42, 0.115), (44, 0.11), (46, 0.105), (48, 0.105), (50, 0.11), (50.5, 0.2), (51, 0.28),
            (52, 0.31), (53, 0.32), (54, 0.31), (56, 0.3), (58, 0.3), (60, 0.295), (62, 0.285), (64, 0.3),
            (66, 0.295), (68, 0.29), (70, 0.3), (72, 0.29), (74, 0.295), (76, 0.3), (78, 0.305), (80, 0.29),
            (82, 0.285), (84, 0.29), (86, 0.295), (88, 0.29), (90, 0.295), (92, 0.3), (94, 0.305), (96, 0.3),
            (98, 0.29), (100, 0.28), (101, 0.24), (102, 0.2), (103, 0.19), (104, 0.19), (106, 0.2), (108, 0.205),
            (110, 0.205), (112, 0.2), (114, 0.195), (116, 0.2), (118, 0.205), (120, 0.195), (122, 0.2),
            (124, 0.195), (126, 0.19), (128, 0.195), (130, 0.19), (132, 0.2), (134, 0.195), (136, 0.2),
            (138, 0.205), (140, 0.195), (142, 0.2), (144, 0.2), (146, 0.205), (148, 0.195), (150, 0.205),
            (152, 0.21), (154, 0.2), (156, 0.19), (158, 0.19), (160, 0.19), (162, 0.19), (164, 0.195), (166, 0.2),
            (168, 0.205), (170, 0.2), (172, 0.195), (174, 0.19), (176, 0.195), (178, 0.19), (180, 0.185),
            (181, 0.3), (182, 0.38), (183, 0.4), (184, 0.395), (186, 0.385), (188, 0.385), (190, 0.39),
            (192, 0.39), (194, 0.4), (196, 0.39), (198, 0.385), (200, 0.39), (201, 0.42), (202, 0.45), (203, 0.48),
            (204, 0.495), (206, 0.5), (208, 0.49), (210, 0.49), (212, 0.495), (214, 0.49), (216, 0.495),
            (218, 0.49), (220, 0.495), (222, 0.5), (224, 0.5), (226, 0.495), (228, 0.49), (230, 0.485),
            (231, 0.58), (232, 0.68), (233, 0.7), (234, 0.705), (236, 0.7), (238, 0.69), (240, 0.685),
            (242, 0.695), (244, 0.695), (246, 0.69), (248, 0.685), (250, 0.675), (251, 0.6), (252, 0.5),
            (253, 0.43), (254, 0.415), (256, 0.415), (258, 0.42), (260, 0.425), (262, 0.43), (264, 0.43),
            (266, 0.43), (268, 0.425), (270, 0.42), (272, 0.415), (274, 0.42), (276, 0.425), (278, 0.42),
            (280, 0.425), (282, 0.43), (284, 0.43), (286, 0.43), (288, 0.425), (290, 0.43), (292, 0.425),
            (294, 0.425), (296, 0.425), (298, 0.425), (300, 0.425)]

# y ticks per panel
ytick_a = [-0.4, -0.2, 0, 0.2, 0.4]
ytick_b = [0.2, 0.4, 0.6, 0.8]
ytick_c = [-6, -4, -2]
ytick_d = [-0.02, -0.015, -0.01, -0.005]
ytick_e = [0.5, 1, 1.5, 2]
ytick_f = [0, 0.2, 0.4, 0.6]
xtick_std = [50, 100, 150, 200, 250, 300]
xtick_f = [0, 50, 100, 150, 200, 250, 300]

SANS = "Liberation Sans"
SERIF = "Liberation Serif"
INK = "#262626"


def fx(px):
    return px / W


def fy(py):
    return 1 - py / H


def lab(v):
    # matlab style labels, plain hyphen for the minus sign
    return "%g" % v


# panel boxes in page pixels: left, top, right, bottom
panels = [
    dict(box=(74, 0, 584, 292), pid=df_pid, afp=df_afpid, dash="dot", yr=[-0.44, 0.482], yt=ytick_a,
         xr=[50, 300], xt=xtick_std, ytitle="\u0394 F (Hz)", ytx=11, yty=147, leg=(139, 20),
         cap="(a) \u0394F", capx=293, capy=378, tx=348),
    dict(box=(72, 400, 585, 692), pid=du_pid, afp=du_afpid, dash="15px,11px", yr=[0.1, 0.83], yt=ytick_b,
         xr=[50, 300], xt=xtick_std, ytitle="Controller o/p", ytx=10, yty=550, leg=(91, 429),
         cap="(b) \u0394<i>u</i>", capx=293, capy=778, tx=748),
    dict(box=(71, 825, 574, 1110), pid=fess_pid, afp=fess_afpid, dash="dot", yr=[-7.8, -0.8], yt=ytick_c,
         xr=[50, 300], xt=xtick_std, ytitle="P<sub>FESS</sub> (p.u)", ytx=17, yty=970, leg=(419, 848),
         cap="(c) P<sub>FESS</sub>", capx=293, capy=1198, tx=1168, expo=(73, 810)),
    dict(box=(111, 1238, 590, 1534), pid=bess_pid, afp=bess_afpid, dash="dot", yr=[-0.024, -0.0028],
         yt=ytick_d, xr=[50, 300], xt=xtick_std, ytitle="P<sub>BESS</sub> (p.u)", ytx=13, yty=1386,
         leg=(433, 1262), cap="(d) P<sub>BESS</sub>", capx=293, capy=1623, tx=1593),
    dict(box=(99, 1691, 603, 1974), pid=deg_pid, afp=deg_afpid, dash="dot", yr=[0.5, 2.145], yt=ytick_e,
         xr=[50, 300], xt=xtick_std, ytitle="P<sub>DEG</sub> (p.u)", ytx=32, yty=1834, leg=(122, 1713),
         cap="(e) P<sub>DEG</sub>", capx=317, capy=2062, tx=2030, expo=(100, 1680)),
    dict(box=(96, 2101, 592, 2381), pid=ev_pid, afp=ev_afpid, dash="dot", yr=[0, 0.75], yt=ytick_f,
         xr=[0, 300], xt=xtick_f, ytitle="P<sub>EV</sub> (p.u)", ytx=31, yty=2242, leg=(118, 2123),
         cap="(f) P<sub>EV</sub>", capx=315, capy=2472, tx=2437),
]

fig = go.Figure()
annotations = []
layout_axes = {}

for i, p in enumerate(panels, start=1):
    l, t, r, b = p["box"]
    sfx = "" if i == 1 else str(i)
    legname = "legend" + sfx
    xa, ya = "x" + sfx, "y" + sfx

    px_, py_ = zip(*p["pid"])
    ax_, ay_ = zip(*p["afp"])
    fig.add_trace(go.Scatter(x=px_, y=py_, mode="lines", name="PID", legend=legname, legendgroup="pid%d" % i,
                             line=dict(color="#ff0000", width=4, dash=p["dash"]), xaxis=xa, yaxis=ya))
    fig.add_trace(go.Scatter(x=ax_, y=ay_, mode="lines", name="AFPID", legend=legname, legendgroup="afp%d" % i,
                             line=dict(color="#000000", width=5), xaxis=xa, yaxis=ya))

    common = dict(showline=True, linecolor=INK, linewidth=1, mirror="ticks", ticks="inside", ticklen=5,
                  tickcolor=INK, showgrid=True, gridcolor="#dfdfdf", gridwidth=1, zeroline=False,
                  tickfont=dict(family=SANS, size=19, color=INK))
    layout_axes["xaxis" + sfx] = dict(common, domain=[fx(l), fx(r)], range=p["xr"], anchor=ya,
                                      tickvals=p["xt"], ticktext=[lab(v) for v in p["xt"]],
                                      ticklabelstandoff=2)
    layout_axes["yaxis" + sfx] = dict(common, domain=[fy(b), fy(t)], range=p["yr"], anchor=xa,
                                      tickvals=p["yt"], ticktext=[lab(v) for v in p["yt"]],
                                      ticklabelstandoff=5)
    layout_axes[legname] = dict(x=fx(p["leg"][0]), y=fy(p["leg"][1]), xanchor="left", yanchor="top",
                                bgcolor="white", bordercolor=INK, borderwidth=1, itemwidth=55,
                                tracegroupgap=4, font=dict(family=SANS, size=19, color="black"))

    annotations.append(dict(text="Time (sec)", x=fx((l + r) / 2), y=fy(p["tx"]), xref="paper", yref="paper",
                            showarrow=False, xanchor="center", yanchor="middle",
                            font=dict(family=SANS, size=22, color=INK)))
    annotations.append(dict(text=p["ytitle"], x=fx(p["ytx"]), y=fy(p["yty"]), xref="paper", yref="paper",
                            showarrow=False, textangle=-90, xanchor="center", yanchor="middle",
                            font=dict(family=SANS, size=21, color=INK)))
    annotations.append(dict(text=p["cap"], x=fx(p["capx"]), y=fy(p["capy"]), xref="paper", yref="paper",
                            showarrow=False, xanchor="center", yanchor="middle",
                            font=dict(family=SERIF, size=22, color="black")))
    if "expo" in p:
        ex, ey = p["expo"]
        annotations.append(dict(text="\u00d710", x=fx(ex), y=fy(ey), xref="paper", yref="paper",
                                showarrow=False, xanchor="left", yanchor="middle",
                                font=dict(family=SANS, size=18, color=INK)))
        annotations.append(dict(text="-3", x=fx(ex + 34), y=fy(ey - 11), xref="paper", yref="paper",
                                showarrow=False, xanchor="left", yanchor="middle",
                                font=dict(family=SANS, size=15, color=INK)))

fig.update_layout(width=W, height=H, margin=dict(l=0, r=0, t=0, b=0), plot_bgcolor="white",
                  paper_bgcolor="white", showlegend=True, annotations=annotations, **layout_axes)

fig.write_html("out.html")
